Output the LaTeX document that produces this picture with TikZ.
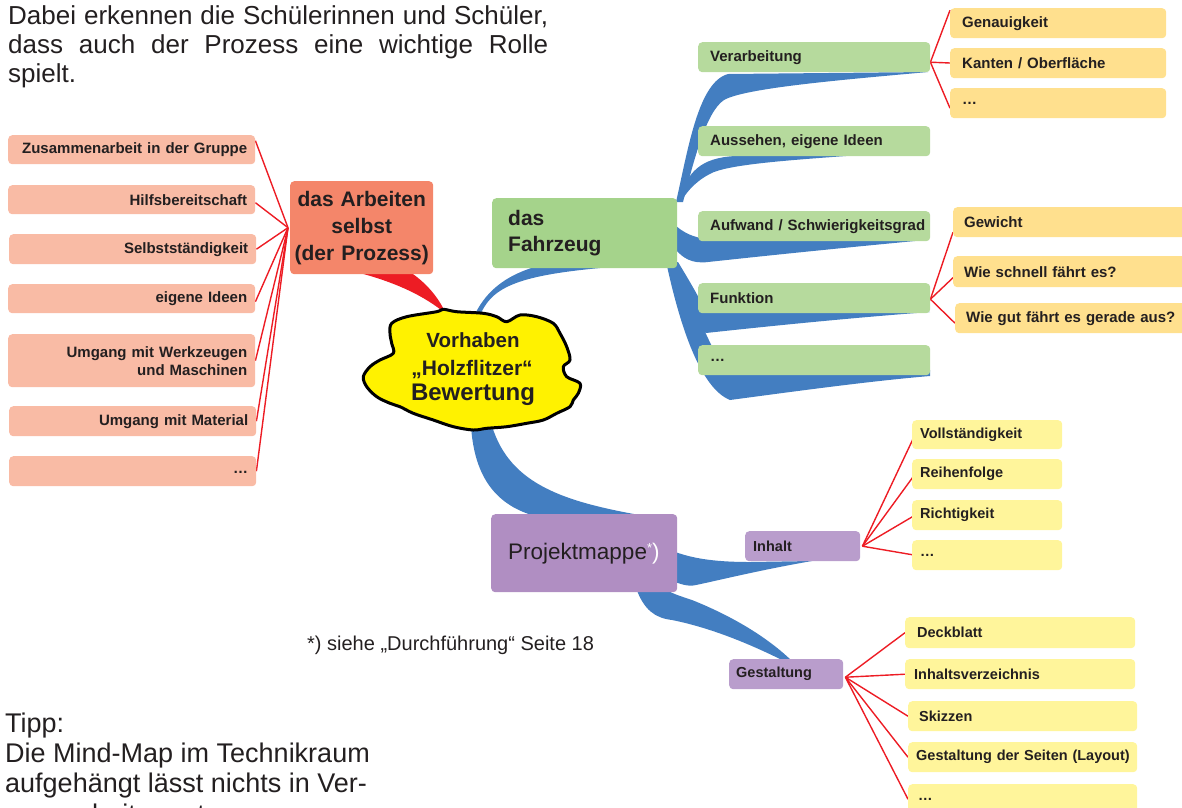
\documentclass[tikz,border=0pt]{standalone}
\usepackage{fontspec}
\setmainfont{Liberation Sans}
\usetikzlibrary{calc}
\pgfdeclarelayer{bg}
\pgfsetlayers{bg,main}
\definecolor{txt}{RGB}{35,31,32}
\definecolor{salL}{RGB}{249,187,165}
\definecolor{salD}{RGB}{244,134,106}
\definecolor{grnD}{RGB}{165,211,139}
\definecolor{grnL}{RGB}{182,218,157}
\definecolor{orgY}{RGB}{255,224,142}
\definecolor{ltY}{RGB}{255,245,155}
\definecolor{purD}{RGB}{176,142,194}
\definecolor{purL}{RGB}{185,157,204}
\definecolor{rib}{RGB}{67,126,193}
\definecolor{redl}{RGB}{237,28,36}
\definecolor{cloudY}{RGB}{255,242,0}
\begin{document}
\begin{tikzpicture}[x=1pt,y=-1pt,
  bx/.style={anchor=north west, rounded corners=4pt, inner xsep=0pt, inner ysep=0pt, text=txt},
  lab/.style={font=\bfseries\fontsize{15}{18}\selectfont},
  labs/.style={font=\bfseries\fontsize{14.5}{17}\selectfont},
  sbox/.style={bx, fill=salL, lab, align=right, minimum width=247pt, text width=231pt},
  gbox/.style={bx, fill=grnL, lab, align=left, minimum width=232pt, text width=208pt, minimum height=30pt},
  obox/.style={bx, fill=orgY, lab, align=left, minimum height=30pt},
  ybox/.style={bx, fill=ltY, labs, align=left, minimum height=30pt},
  pbox/.style={bx, fill=purL, labs, align=left, minimum height=30pt},
  para/.style={text=txt, inner sep=0pt, anchor=base west},
  redline/.style={draw=redl, line width=1.4pt},
  ribbon/.style={fill=rib}]
\useasboundingbox (0,0) rectangle (1182,807);
\clip (0,0) rectangle (1182,807);

% ---------- texts ----------
\node[para, font=\fontsize{26}{30}\selectfont] (i1) at (8,24) {\makebox[540pt][s]{Dabei erkennen die Schülerinnen und Schüler,}};
\node[para, font=\fontsize{26}{30}\selectfont] (i2) at (8,53) {\makebox[540pt][s]{dass auch der Prozess eine wichtige Rolle}};
\node[para, font=\fontsize{26}{30}\selectfont] (i3) at (8,82) {spielt.};

\node[para, font=\fontsize{27}{30}\selectfont] (t1) at (5,732) {Tipp:};
\node[para, font=\fontsize{27}{30}\selectfont] (t2) at (5,762) {Die Mind-Map im Technikraum};
\node[para, font=\fontsize{27}{30}\selectfont] (t3) at (5,792) {aufgehängt lässt nichts in Ver-};
\node[para, font=\fontsize{27}{30}\selectfont] (t4) at (5,823) {gessenheit geraten.};

\node[para, font=\fontsize{20}{24}\selectfont] (fn) at (307,650) {*) siehe „Durchführung“ Seite 18};

% ---------- left group ----------
\node[sbox, minimum height=29pt] (s1) at (8,135) {Zusammenarbeit in der Gruppe};
\node[sbox, minimum height=29pt] (s2) at (8,185) {Hilfsbereitschaft};
\node[sbox, minimum height=30pt] (s3) at (9,234) {Selbstständigkeit};
\node[sbox, minimum height=29pt] (s4) at (8,284) {eigene Ideen};
\node[sbox, minimum height=53pt] (s5) at (8,334) {Umgang mit Werkzeugen\\und Maschinen};
\node[sbox, minimum height=30pt] (s6) at (9,406) {Umgang mit Material};
\node[sbox, minimum height=30pt] (s7) at (9,456) {\raisebox{-4pt}{…}};

\node[bx, fill=salD, font=\bfseries\fontsize{21}{27}\selectfont, align=center,
      minimum width=143pt, minimum height=93pt, text width=143pt] (arb) at (290,181)
      {das Arbeiten\\selbst\\(der Prozess)};

% ---------- Fahrzeug group ----------
\node[bx, fill=grnD, font=\bfseries\fontsize{21}{26}\selectfont, align=left,
      minimum width=185pt, minimum height=70pt, text width=153pt] (fz) at (492,198)
      {das\\Fahrzeug};

\node[gbox] (verb) at (698,42) {Verarbeitung};
\node[gbox] (auss) at (698,126) {Aussehen, eigene Ideen};
\node[gbox] (aufw) at (698,211) {\mbox{Aufwand / Schwierigkeitsgrad}};
\node[gbox] (fkt) at (698,283) {Funktion};
\node[gbox] (gd) at (698,345) {…};

\node[obox, minimum width=216pt, text width=192pt] (gen) at (950,8) {Genauigkeit};
\node[obox, minimum width=216pt, text width=192pt] (kant) at (950,48) {Kanten / Oberfläche};
\node[obox, minimum width=216pt, text width=192pt] (od) at (950,88) {…};

\node[obox, minimum width=240pt, text width=218pt] (gew) at (953,207) {Gewicht};
\node[obox, minimum width=240pt, text width=218pt, minimum height=31pt] (ws) at (953,256) {Wie schnell fährt es?};
\node[obox, minimum width=240pt, text width=218pt] (wg) at (955,303) {\mbox{Wie gut fährt es gerade aus?}};

% ---------- Projektmappe group ----------
\node[bx, fill=purD, font=\fontsize{22.5}{26}\selectfont, align=left,
      minimum width=186pt, minimum height=78pt, text width=152pt] (pm) at (491,514)
      {\mbox{Projektmappe{\color{white}\raisebox{7pt}{\fontsize{13}{13}\selectfont *})}}};

\node[pbox, minimum width=115pt, text width=99pt] (inh) at (745,531) {Inhalt};
\node[pbox, minimum width=114pt, text width=100pt] (ges) at (729,659) {Gestaltung};

\node[ybox, minimum width=150pt, text width=134pt, minimum height=29pt] (vol) at (912,420) {Vollständigkeit};
\node[ybox, minimum width=150pt, text width=134pt] (rei) at (912,459) {Reihenfolge};
\node[ybox, minimum width=150pt, text width=134pt] (ric) at (912,500) {Richtigkeit};
\node[ybox, minimum width=150pt, text width=134pt] (yd) at (912,540) {…};

\node[ybox, minimum width=230pt, text width=206pt, minimum height=31pt] (deck) at (905,617) {Deckblatt};
\node[ybox, minimum width=230pt, text width=212pt] (iv) at (905,659) {Inhaltsverzeichnis};
\node[ybox, minimum width=229pt, text width=207pt] (sk) at (908,701) {Skizzen};
\node[ybox, minimum width=229pt, text width=213pt] (gds) at (908,742) {\mbox{Gestaltung der Seiten (Layout)}};
\node[ybox, minimum width=229pt, text width=209pt] (gdd) at (908,784) {…};

% ---------- cloud ----------
\coordinate (cloud) at (472,370);
\draw[line width=3pt, fill=cloudY, line join=round] plot[smooth cycle, tension=0.55] coordinates {
 (391.7,323.3) (406.7,316.7) (436.7,311.7) (443.3,309.3) (456.7,311.7) (483.3,313.3)
 (496.7,316.7) (506.7,321.7) (520,315) (536.7,316.7) (553.3,323.3) (560,333.3)
 (566.7,346.7) (570,360) (563.3,366.7) (566.7,376.7) (580,383.3) (578.3,393.3)
 (573.3,400) (570,406.7) (556.7,413.3) (543.3,420) (526.7,423.3) (506.7,426.7)
 (486.7,428.3) (473.3,430) (453.3,426.7) (433.3,420) (413.3,413.3) (400,406.7)
 (390,403.3) (376.7,396.7) (366.7,386.7) (363.3,376.7) (370,366.7) (380,360)
 (393.3,353.3) (391.7,343.3) (390,333.3)};
\node[para, anchor=base, font=\bfseries\fontsize{20.5}{24}\selectfont] (c1) at (473,347) {Vorhaben};
\node[para, anchor=base, font=\bfseries\fontsize{21}{24}\selectfont] (c2) at (472,375) {„Holzflitzer“};
\node[para, anchor=base, font=\bfseries\fontsize{24}{28}\selectfont] (c3) at (473,400) {Bewertung};

% ---------- connectors (background) ----------
\begin{pgfonlayer}{bg}
 % red branch
 \fill[redl] (356,272) .. controls (395,282) and (425,296) .. (446,314) .. controls (438,296) and (425,282) .. (410,272) -- cycle;
 % cloud -> Fahrzeug
 \fill[ribbon] (479,318) .. controls (490,288) and (515,276) .. (600,268) -- (640,266) -- (640,255) .. controls (540,256) and (495,272) .. (474,316) -- cycle;
 % Fahrzeug -> subnodes
 \fill[ribbon] (676,202) .. controls (688,150) and (698,82) .. (728,74) -- (928,72) .. controls (840,80) and (745,88) .. (724,100) .. controls (706,112) and (694,160) .. (683,202) -- cycle;
 \fill[ribbon] (678,200) .. controls (688,172) and (700,158) .. (735,156) -- (860,155) .. controls (790,160) and (735,164) .. (714,172) .. controls (698,179) and (688,190) .. (682,200) -- cycle;
 \fill[ribbon] (676,226) .. controls (688,236) and (700,241) .. (740,241) -- (915,241) .. controls (820,250) and (745,258) .. (708,262) .. controls (692,264) and (683,258) .. (676,250) -- cycle;
 \fill[ribbon] (668,264) .. controls (676,292) and (690,326) .. (706,333) .. controls (770,326) and (860,317) .. (930,312) -- (700,300) .. controls (692,285) and (684,272) .. (678,262) -- cycle;
 \fill[ribbon] (667,266) .. controls (680,325) and (700,388) .. (730,400) .. controls (790,392) and (870,381) .. (930,376) -- (930,370) -- (720,362) .. controls (708,340) and (690,300) .. (678,266) -- cycle;
 % cloud -> Projektmappe
 \fill[ribbon] (471,426) .. controls (474,472) and (492,504) .. (535,516) -- (645,516) .. controls (565,502) and (510,485) .. (492,426) -- cycle;
 % Projektmappe -> Inhalt / Gestaltung
 \fill[ribbon] (670,550) .. controls (690,558) and (712,562) .. (750,562) -- (812,561) .. controls (760,570) and (720,580) .. (696,585) .. controls (688,587) and (680,584) .. (670,580) -- cycle;
 \fill[ribbon] (636,588) .. controls (644,610) and (655,618) .. (672,620) .. controls (712,628) and (752,645) .. (784,661) -- (792,661) .. controls (762,632) and (722,612) .. (692,600) .. controls (680,596) and (670,593) .. (664,588) -- cycle;

 % red lines
 \coordinate (arL) at ([xshift=-2pt]arb.west);
 \draw[redline] (arL) -- ([yshift=9pt]s1.east);
 \draw[redline] (arL) -- ([yshift=-3pt]s2.east);
 \draw[redline] (arL) -- (s3.east);
 \draw[redline] (arL) -- ([yshift=-3pt]s4.east);
 \draw[redline] (arL) -- (s5.east);
 \draw[redline] (arL) -- (s6.east);
 \draw[redline] (arL) -- (s7.east);

 \coordinate (vbR) at ([yshift=-5pt]verb.east);
 \draw[redline] (vbR) -- ([yshift=13pt]gen.west);
 \draw[redline] (vbR) -- ([xshift=5pt]kant.west);
 \draw[redline] (vbR) -- ([yshift=-5pt]od.west);

 \coordinate (fkR) at ([yshift=-1pt]fkt.east);
 \draw[redline] (fkR) -- ([yshift=-10pt]gew.west);
 \draw[redline] (fkR) -- ([yshift=-6pt]ws.west);
 \draw[redline] (fkR) -- ([yshift=-5pt]wg.west);

 \coordinate (inR) at ([xshift=2pt]inh.east);
 \draw[redline] (inR) -- ([xshift=3pt]vol.west);
 \draw[redline] (inR) -- ([xshift=3pt]rei.west);
 \draw[redline] (inR) -- ([xshift=3pt]ric.west);
 \draw[redline] (inR) -- ([xshift=3pt]yd.west);

 \coordinate (geR) at ([xshift=2pt,yshift=-3pt]ges.east);
 \draw[redline] (geR) -- (deck.west);
 \draw[redline] (geR) -- (iv.west);
 \draw[redline] (geR) -- (sk.west);
 \draw[redline] (geR) -- (gds.west);
 \draw[redline] (geR) -- (gdd.west);
\end{pgfonlayer}
\end{tikzpicture}
\end{document}
